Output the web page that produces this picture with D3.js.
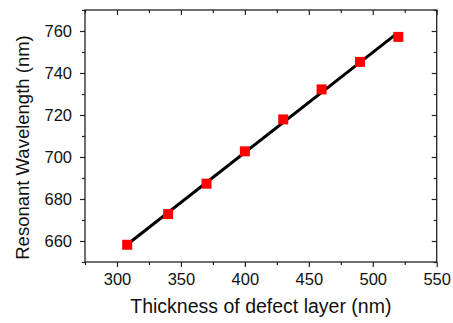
<!DOCTYPE html>
<html>
<head>
<meta charset="utf-8">
<script src="https://cdn.jsdelivr.net/npm/d3@7"></script>
<style>
  html, body { margin: 0; padding: 0; background: #fff; }
  svg { display: block; font-family: "Liberation Sans", Arial, sans-serif; }
</style>
</head>
<body>
<svg id="chart" width="453" height="323"></svg>
<script>
// Defect-layer thickness (nm) and the resonant wavelength it produces (nm)
const thickness = [308, 340, 370, 400, 430, 460, 490, 520];
const wavelength = [658.2, 672.8, 687.3, 702.7, 717.9, 732.2, 745.3, 757.2];

// Linear fit through the points (end values)
const fitThickness = [310, 519];
const fitWavelength = [659.3, 758.9];

const xTicks = [300, 350, 400, 450, 500, 550];
const xMinor = [275, 325, 375, 425, 475, 525];
const yTicks = [660, 680, 700, 720, 740, 760];
const yMinor = [650, 670, 690, 710, 730, 750, 770];

const xTitle = "Thickness of defect layer (nm)";
const yTitle = "Resonant Wavelength (nm)";

const svg = d3.select("#chart");
const plotL = 85, plotR = 436.7, plotT = 10, plotB = 262;

const x = d3.scaleLinear().domain([275, 550]).range([plotL, plotR]);
const y = d3.scaleLinear().domain([650, 770]).range([plotB, plotT]);

const frameColor = "#222";
const major = 5, minor = 3;

// Bottom axis: outward ticks with labels
const bottomAxis = svg.append("g").attr("transform", `translate(0,${plotB})`);
bottomAxis.call(d3.axisBottom(x).tickValues(xTicks).tickSize(major).tickPadding(6).tickFormat(d3.format("d")));
bottomAxis.append("g").call(d3.axisBottom(x).tickValues(xMinor).tickSize(minor).tickFormat(""));

// Left axis: outward ticks with labels
const leftAxis = svg.append("g").attr("transform", `translate(${plotL},0)`);
leftAxis.call(d3.axisLeft(y).tickValues(yTicks).tickSize(major).tickPadding(8).tickFormat(d3.format("d")));
leftAxis.append("g").call(d3.axisLeft(y).tickValues(yMinor).tickSize(minor).tickFormat(""));

// Top and right: mirrored inward ticks, no labels
const topAxis = svg.append("g").attr("transform", `translate(0,${plotT})`);
topAxis.call(d3.axisBottom(x).tickValues(xTicks).tickSize(major).tickFormat(""));
topAxis.append("g").call(d3.axisBottom(x).tickValues(xMinor).tickSize(minor).tickFormat(""));

const rightAxis = svg.append("g").attr("transform", `translate(${plotR},0)`);
rightAxis.call(d3.axisLeft(y).tickValues(yTicks).tickSize(major).tickFormat(""));
rightAxis.append("g").call(d3.axisLeft(y).tickValues(yMinor).tickSize(minor).tickFormat(""));

svg.selectAll(".domain").remove();
svg.selectAll(".tick line").attr("stroke", frameColor).attr("stroke-width", 1.2);
svg.selectAll(".tick text")
  .attr("fill", "#111")
  .style("font-size", "16.5px")
  .style("font-family", "'Liberation Sans', Arial, sans-serif");

// Plot frame
svg.append("rect")
  .attr("x", plotL).attr("y", plotT)
  .attr("width", plotR - plotL).attr("height", plotB - plotT)
  .attr("fill", "none")
  .attr("stroke", frameColor)
  .attr("stroke-width", 1.3);

// Fit line
const line = d3.line().x(d => x(d[0])).y(d => y(d[1]));
svg.append("path")
  .datum(d3.zip(fitThickness, fitWavelength))
  .attr("d", line)
  .attr("fill", "none")
  .attr("stroke", "#000")
  .attr("stroke-width", 3);

// Square markers
const s = 10;
svg.append("g").selectAll("rect")
  .data(d3.zip(thickness, wavelength))
  .join("rect")
  .attr("x", d => x(d[0]) - s / 2)
  .attr("y", d => y(d[1]) - s / 2)
  .attr("width", s).attr("height", s)
  .attr("fill", "#ff0000");

// Axis titles
svg.append("text")
  .attr("x", (plotL + plotR) / 2)
  .attr("y", 313)
  .attr("text-anchor", "middle")
  .attr("fill", "#111")
  .style("font-size", "19.5px")
  .text(xTitle);

svg.append("text")
  .attr("transform", `translate(28.5,147.5) rotate(-90)`)
  .attr("text-anchor", "middle")
  .attr("fill", "#111")
  .style("font-size", "18.5px")
  .text(yTitle);
</script>
</body>
</html>
